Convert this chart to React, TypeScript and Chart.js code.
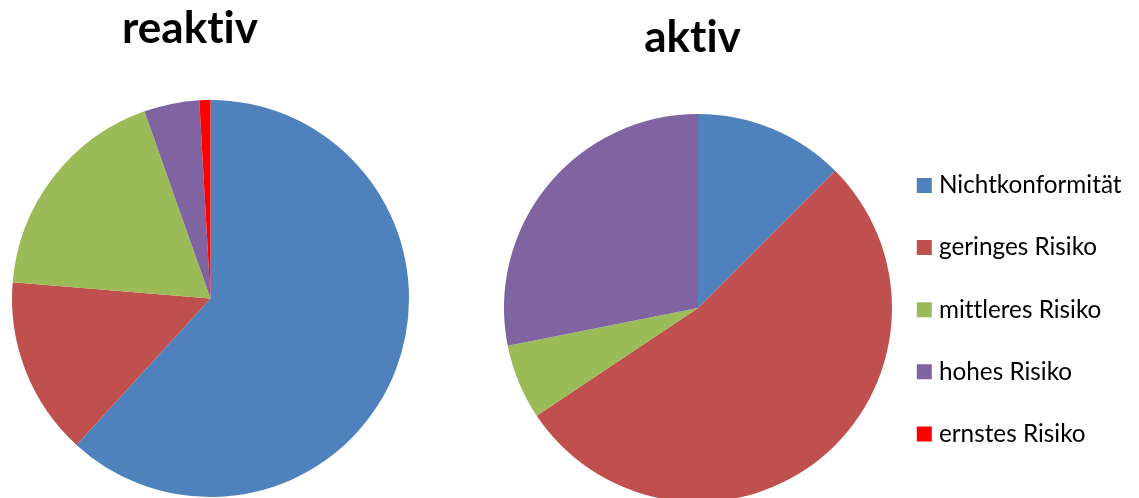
import React, { useEffect, useRef } from 'react';
import { Chart, registerables } from 'chart.js';

Chart.register(...registerables);

// ---- data ----
const categories = ['Nichtkonformität', 'geringes Risiko', 'mittleres Risiko', 'hohes Risiko', 'ernstes Risiko'];
const reaktivValues = [61.8, 14.5, 18.3, 4.5, 0.9];
const aktivValues = [4, 17, 2, 9, 0];
const reaktivTitle = 'reaktiv';
const aktivTitle = 'aktiv';

// ---- styles ----
const COLORS = ['#4F81BD', '#C0504D', '#9BBB59', '#8064A2', '#FF0000'];
const FONT = 'Lato, "Open Sans", "DejaVu Sans", sans-serif';

const noLigatures = {
  id: 'noLigatures',
  beforeDraw(chart: any) {
    try {
      chart.ctx.textRendering = 'optimizeSpeed';
    } catch (e) {
      /* ignore */
    }
  },
};

function spacerLegend(width: number) {
  return {
    display: true,
    position: 'left' as const,
    labels: { filter: () => false, padding: width - 10 },
  };
}

function pieChart(canvas: HTMLCanvasElement, values: number[], title: string, spacer: number, padTop: number, padBottom: number, layoutBottom: number) {
  return new Chart(canvas, {
    type: 'pie',
    data: {
      labels: categories,
      datasets: [{ data: values, backgroundColor: COLORS, borderWidth: 0, offset: 0, hoverOffset: 0 }],
    },
    options: {
      responsive: false,
      animation: false,
      events: [],
      layout: { padding: { top: 0, left: 0, right: 0, bottom: layoutBottom } },
      plugins: {
        legend: spacerLegend(spacer),
        tooltip: { enabled: false },
        title: {
          display: true,
          text: title,
          color: '#000',
          font: { family: FONT, size: 44, weight: 'bold', lineHeight: 1.2 },
          padding: { top: padTop, bottom: padBottom },
        },
      },
    },
    plugins: [noLigatures],
  });
}

function legendChart(canvas: HTMLCanvasElement) {
  const base = (Chart as any).overrides.pie.plugins.legend.labels.generateLabels;
  return new Chart(canvas, {
    type: 'pie',
    data: {
      labels: categories,
      datasets: [{ data: reaktivValues, backgroundColor: COLORS, borderWidth: 0, radius: 0, offset: 0, hoverOffset: 0 }],
    },
    options: {
      responsive: false,
      animation: false,
      events: [],
      layout: { padding: { top: 121.4, left: 0, right: 0, bottom: 0 } },
      plugins: {
        tooltip: { enabled: false },
        title: { display: false },
        legend: {
          display: true,
          position: 'left',
          labels: {
            color: '#000',
            font: { family: FONT, size: 24.3 },
            boxWidth: 5,
            boxHeight: 5,
            padding: 37.8,
            generateLabels: (chart: any) =>
              base(chart).map((l: any) => ({ ...l, lineWidth: 10, strokeStyle: l.fillStyle })),
          },
        },
      },
    },
    plugins: [noLigatures],
  });
}

export default function App() {
  const leftRef = useRef<HTMLCanvasElement>(null);
  const rightRef = useRef<HTMLCanvasElement>(null);
  const legendRef = useRef<HTMLCanvasElement>(null);

  useEffect(() => {
    const charts: Chart[] = [];
    if (leftRef.current) charts.push(pieChart(leftRef.current, reaktivValues, reaktivTitle, 41, 2.6, 44.6, 1));
    if (rightRef.current) charts.push(pieChart(rightRef.current, aktivValues, aktivTitle, 11, 11.6, 49.6, 3));
    if (legendRef.current) charts.push(legendChart(legendRef.current));
    return () => charts.forEach((c) => c.destroy());
  }, []);

  return (
    <div style={{ position: 'fixed', left: 0, top: 0, width: 1139, height: 498, overflow: 'hidden', background: '#fff' }}>
      <canvas ref={leftRef} width={460} height={498} style={{ position: 'absolute', left: -40, top: 0, width: 460, height: 498 }} />
      <canvas ref={rightRef} width={421} height={505} style={{ position: 'absolute', left: 482, top: 0, width: 421, height: 505 }} />
      <canvas ref={legendRef} width={560} height={498} style={{ position: 'absolute', left: 884.35, top: 0, width: 560, height: 498 }} />
    </div>
  );
}
